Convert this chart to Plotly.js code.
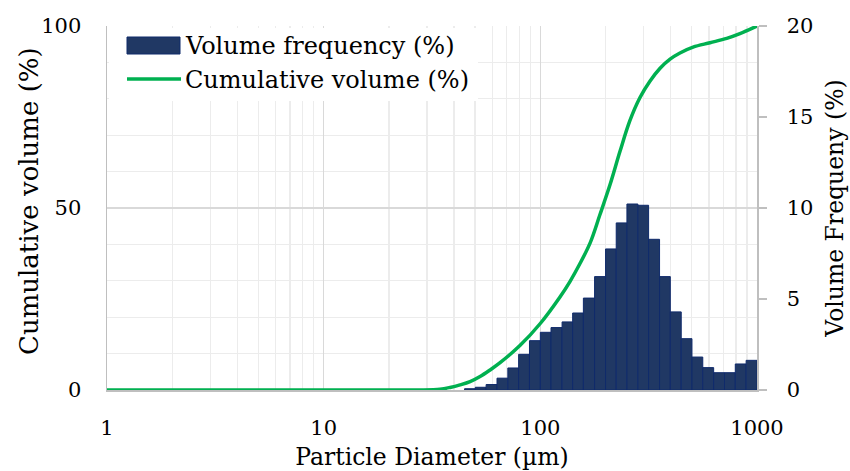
<!DOCTYPE html>
<html>
<head>
<meta charset="utf-8">
<script src="https://cdn.plot.ly/plotly-3.0.1.min.js"></script>
<style>
  html, body { margin: 0; padding: 0; background: #ffffff; }
  #chart { width: 850px; height: 471px; }
</style>
</head>
<body>
<div id="chart"></div>
<script>
// Particle size bins (µm): lower and upper edge of each bin
const binLow  = [44.7, 50.1, 56.2, 63.1, 70.8, 79.4, 89.1, 100, 112, 126, 141, 158, 178, 200, 224, 251, 282, 316, 355, 398, 447, 501, 562, 631, 708, 794, 891];
const binHigh = [50.1, 56.2, 63.1, 70.8, 79.4, 89.1, 100, 112, 126, 141, 158, 178, 200, 224, 251, 282, 316, 355, 398, 447, 501, 562, 631, 708, 794, 891, 1000];
// Volume frequency (%) per bin
const volFreq = [0.07, 0.15, 0.30, 0.65, 1.21, 1.96, 2.71, 3.17, 3.43, 3.74, 4.23, 5.05, 6.23, 7.75, 9.18, 10.22, 10.15, 8.28, 6.23, 4.29, 2.82, 1.81, 1.23, 0.95, 0.95, 1.43, 1.63];

// Cumulative volume curve
const cumSize = [1, 10, 20, 27.8, 34.4, 38.3, 42.6, 47.4, 52.7, 58.6, 65.2, 80.5, 99.7, 123, 137, 152, 170, 188, 210, 233, 259, 288, 321, 357, 397, 441, 507, 607, 725, 834, 1000];
const cumVol  = [0, 0, 0, 0, 0.2, 0.7, 1.4, 2.3, 3.7, 5.5, 7.5, 12.2, 18.2, 25.5, 29.8, 34.6, 40.5, 48.0, 56.5, 65.5, 74.0, 80.3, 84.9, 88.4, 90.9, 92.6, 94.2, 95.4, 96.6, 97.9, 100];

// Axis labels
const xTicks = [1, 10, 100, 1000];
const xTickText = ['1', '10', '100', '1000'];
const yTicks = [0, 50, 100];
const y2Ticks = [0, 5, 10, 15, 20];
const legendNames = ['Volume frequency (%)', 'Cumulative volume (%)'];
const leftTitle = 'Cumulative volume (%)';

const FONT = 'DejaVu Serif, Liberation Serif, serif';
const FS = 21;
const NAVY = '#203864';
const GREEN = '#00b050';
const AXIS = '#bfbfbf';

// bar centres/widths in linear units (log axis converts the edges)
const barX = binLow.map((lo, i) => (lo + binHigh[i]) / 2);
const barW = binLow.map((lo, i) => binHigh[i] - lo);

const traces = [
  {
    type: 'bar',
    x: barX,
    y: volFreq,
    width: barW,
    yaxis: 'y2',
    name: legendNames[0],
    marker: { color: NAVY, line: { color: '#0f2a6b', width: 1 } },
    showlegend: false
  },
  {
    type: 'scatter',
    mode: 'lines',
    x: cumSize,
    y: cumVol,
    name: legendNames[1],
    line: { color: GREEN, width: 3.5, shape: 'spline', smoothing: 1 },
    showlegend: false
  }
];

// plot area in pixels: left 107, right 757, top 26, bottom 390
const L = 107, R = 757, T = 26, B = 390;
const px = v => (v - L) / (R - L);
const py = v => (B - v) / (B - T);

const layout = {
  width: 850,
  height: 471,
  margin: { l: L, r: 850 - R, t: T, b: 471 - B },
  paper_bgcolor: '#ffffff',
  plot_bgcolor: '#ffffff',
  font: { family: FONT, size: FS, color: '#000000' },
  xaxis: {
    type: 'log',
    range: [0, 3],
    tickvals: xTicks,
    ticktext: xTickText,
    ticks: '',
    ticklabelstandoff: 18,
    showline: true,
    linecolor: AXIS,
    linewidth: 1.5,
    showgrid: true,
    gridcolor: '#d9d9d9',
    gridwidth: 1.3,
    minor: { dtick: 'D1', showgrid: true, gridcolor: '#ececec', gridwidth: 1.3, ticks: '' },
    zeroline: false,
    tickfont: { family: FONT, size: FS },
    title: { text: 'Particle Diameter (µm)', font: { family: FONT, size: 23.5 }, standoff: 10 }
  },
  yaxis: {
    range: [0, 100],
    tickvals: yTicks,
    ticks: '',
    ticklabelstandoff: 20,
    showline: true,
    linecolor: AXIS,
    linewidth: 1.5,
    showgrid: true,
    gridcolor: '#d9d9d9',
    gridwidth: 1.3,
    minor: { dtick: 10, showgrid: true, gridcolor: '#ececec', gridwidth: 1.3, ticks: '' },
    zeroline: false,
    tickfont: { family: FONT, size: FS }
  },
  yaxis2: {
    overlaying: 'y',
    side: 'right',
    range: [0, 20],
    tickvals: y2Ticks,
    ticks: 'outside',
    ticklen: 8,
    tickwidth: 1.5,
    tickcolor: AXIS,
    ticklabelstandoff: 16,
    showline: true,
    linecolor: AXIS,
    linewidth: 1.5,
    showgrid: false,
    zeroline: false,
    tickfont: { family: FONT, size: FS },
    title: { text: 'Volume Frequeny (%)', font: { family: FONT, size: 23.5 }, standoff: 14 }
  },
  shapes: [
    // legend panel
    { type: 'rect', xref: 'paper', yref: 'paper', layer: 'above',
      x0: px(109), x1: px(478), y0: py(101), y1: py(28),
      fillcolor: '#ffffff', line: { width: 0 } },
    // bar swatch
    { type: 'rect', xref: 'paper', yref: 'paper', layer: 'above',
      x0: px(127), x1: px(180), y0: py(54), y1: py(37),
      fillcolor: NAVY, line: { color: '#0f2a6b', width: 1 } },
    // line swatch
    { type: 'line', xref: 'paper', yref: 'paper', layer: 'above',
      x0: px(127), x1: px(181), y0: py(79), y1: py(79),
      line: { color: GREEN, width: 3.5 } }
  ],
  annotations: [
    { xref: 'paper', yref: 'paper', x: px(183), y: py(46), xanchor: 'left', yanchor: 'middle',
      text: legendNames[0], showarrow: false, font: { family: FONT, size: 24, color: '#000' } },
    { xref: 'paper', yref: 'paper', x: px(183), y: py(80), xanchor: 'left', yanchor: 'middle',
      text: legendNames[1], showarrow: false, font: { family: FONT, size: 24, color: '#000' } },
    // left axis title
    { xref: 'paper', yref: 'paper', x: px(29), y: py(201), xanchor: 'center', yanchor: 'middle',
      textangle: -90, text: leftTitle, showarrow: false,
      font: { family: FONT, size: 26, color: '#000' } }
  ]
};

Plotly.newPlot('chart', traces, layout, { displayModeBar: false, staticPlot: true });
</script>
</body>
</html>
